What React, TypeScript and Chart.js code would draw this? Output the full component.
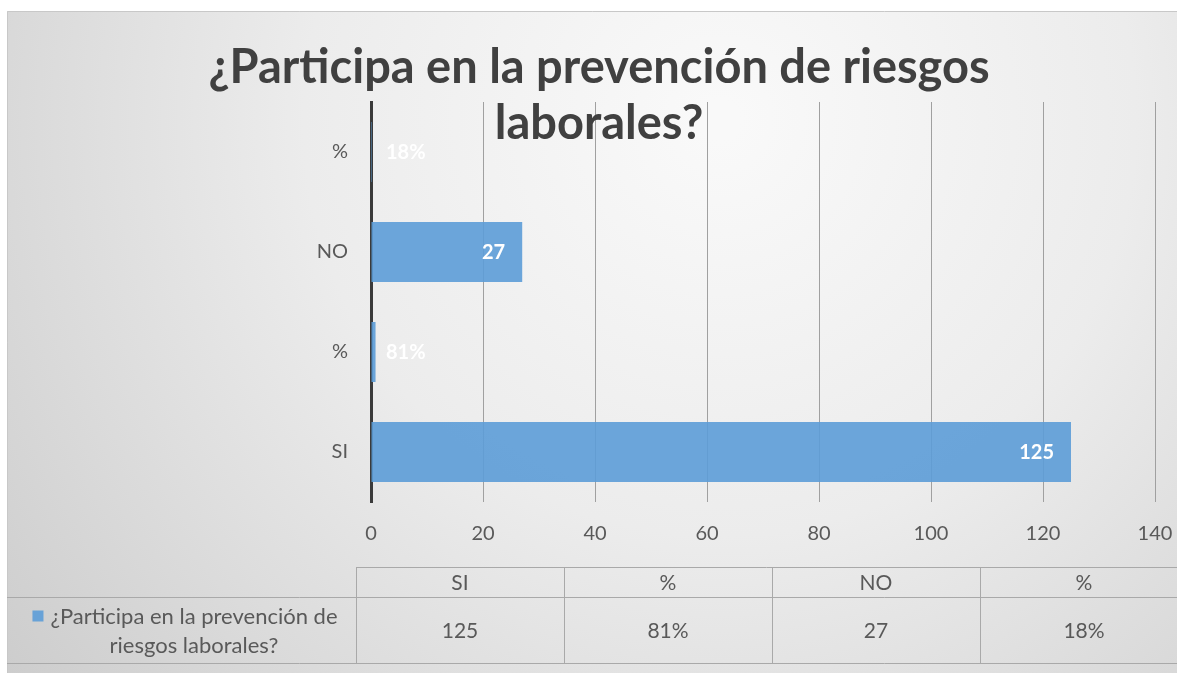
import React, { useEffect, useRef } from 'react';
import { Chart, registerables } from 'chart.js';

Chart.register(...registerables);

const TITLE_LINES = ['¿Participa en la prevención de riesgos', 'laborales?'];
const CATEGORIES = ['%', 'NO', '%', 'SI'];
const VALUES = [0.18, 27, 0.81, 125];
const IS_PERCENT = [true, false, true, false];
const X_TICKS_MIN = 0;
const X_TICKS_MAX = 140;
const X_TICKS_STEP = 20;
const SERIES_LABEL = '¿Participa en la prevención de riesgos laborales?';

const W = 1177;
const H = 673;
const FONT = 'Lato, "Open Sans", sans-serif';
const TEXT_COLOR = '#595959';
const BAR_COLOR = 'rgba(92,156,215,0.9)';

const fmt = (v: number, pct: boolean) => (pct ? Math.round(v * 100) + '%' : String(v));

const backgroundPlugin = {
  id: 'bg',
  beforeDraw(chart: any) {
    const ctx = chart.ctx;
    ctx.save();
    ctx.fillStyle = '#ffffff';
    ctx.fillRect(0, 0, W, H);
    const g = ctx.createRadialGradient(720, 120, 20, 720, 120, 900);
    g.addColorStop(0, '#f9f9f9');
    g.addColorStop(0.45, '#ececec');
    g.addColorStop(1, '#cdcdcd');
    ctx.fillStyle = g;
    ctx.fillRect(7, 11, W - 7, H - 11);
    ctx.strokeStyle = '#c8c8c8';
    ctx.lineWidth = 1;
    ctx.beginPath();
    ctx.moveTo(7.5, H);
    ctx.lineTo(7.5, 11.5);
    ctx.lineTo(W, 11.5);
    ctx.stroke();
    ctx.restore();
  },
};

const labelsPlugin = {
  id: 'barLabels',
  afterDatasetsDraw(chart: any) {
    const ctx = chart.ctx;
    const meta = chart.getDatasetMeta(0);
    const left = chart.chartArea.left;
    ctx.save();
    ctx.font = `bold 20px ${FONT}`;
    ctx.fillStyle = '#ffffff';
    ctx.textBaseline = 'middle';
    meta.data.forEach((bar: any, i: number) => {
      const txt = fmt(VALUES[i], IS_PERCENT[i]);
      const w = ctx.measureText(txt).width;
      let x = bar.x - 17 - w;
      if (x < left + 15) x = left + 15;
      ctx.textAlign = 'left';
      ctx.fillText(txt, x, bar.y + 1);
    });
    ctx.restore();
  },
};

const overlayPlugin = {
  id: 'overlay',
  afterDraw(chart: any) {
    const ctx = chart.ctx;
    ctx.save();
    // Title
    ctx.fillStyle = '#404040';
    ctx.textAlign = 'center';
    ctx.textBaseline = 'alphabetic';
    ctx.font = `bold 100px ${FONT}`;
    const w0 = ctx.measureText(TITLE_LINES[0]).width;
    const size = Math.round((100 * 788) / w0);
    ctx.font = `bold ${size}px ${FONT}`;
    ctx.fillText(TITLE_LINES[0], 599, 83);
    ctx.fillText(TITLE_LINES[1], 599, 139);

    // Data table
    const tableLeft = chart.chartArea.left - 15;
    const colW = 208;
    const y0 = 567;
    const y1 = 597;
    const y2 = 663;
    ctx.strokeStyle = '#a9a9a9';
    ctx.lineWidth = 1;
    ctx.beginPath();
    ctx.moveTo(tableLeft, y0 + 0.5);
    ctx.lineTo(W, y0 + 0.5);
    ctx.moveTo(7, y1 + 0.5);
    ctx.lineTo(W, y1 + 0.5);
    ctx.moveTo(7, y2 + 0.5);
    ctx.lineTo(W, y2 + 0.5);
    const cols = CATEGORIES.map((c, i) => ({ c, v: fmt(VALUES[i], IS_PERCENT[i]) })).reverse();
    for (let i = 0; i < cols.length; i++) {
      const x = Math.round(tableLeft + i * colW) + 0.5;
      ctx.moveTo(x, y0);
      ctx.lineTo(x, y2);
    }
    ctx.stroke();

    ctx.fillStyle = TEXT_COLOR;
    ctx.font = `21px ${FONT}`;
    ctx.textAlign = 'center';
    ctx.textBaseline = 'middle';
    cols.forEach((col, i) => {
      const cx = tableLeft + i * colW + colW / 2;
      ctx.fillText(col.c, cx, (y0 + y1) / 2 + 1);
      ctx.fillText(col.v, cx, (y1 + y2) / 2 + 1);
    });

    // Legend key and series label wrapped
    ctx.font = `22px ${FONT}`;
    const words = SERIES_LABEL.split(' ');
    const lines: string[] = [];
    let cur = '';
    const maxW = 315;
    words.forEach((wd) => {
      const test = cur ? cur + ' ' + wd : wd;
      if (ctx.measureText(test).width > maxW && cur) {
        lines.push(cur);
        cur = wd;
      } else cur = test;
    });
    if (cur) lines.push(cur);
    const textCx = 194;
    const lh = 29;
    const startY = (y1 + y2) / 2 - ((lines.length - 1) * lh) / 2 + 1;
    lines.forEach((ln, i) => ctx.fillText(ln, textCx, startY + i * lh));
    const firstW = ctx.measureText(lines[0]).width;
    ctx.fillStyle = BAR_COLOR;
    ctx.fillRect(textCx - firstW / 2 - 18, startY - 6, 11, 11);
    ctx.restore();
  },
};

export default function App() {
  const ref = useRef<HTMLCanvasElement>(null);
  useEffect(() => {
    if (!ref.current) return;
    const chart = new Chart(ref.current, {
      type: 'bar',
      data: {
        labels: CATEGORIES,
        datasets: [
          {
            label: SERIES_LABEL,
            data: VALUES,
            backgroundColor: BAR_COLOR,
            borderWidth: 0,
            barPercentage: 0.6,
            categoryPercentage: 1,
          },
        ],
      },
      options: {
        indexAxis: 'y',
        animation: false,
        responsive: false,
        maintainAspectRatio: false,
        layout: { padding: { left: 0, right: 22, top: 102, bottom: 121 } },
        plugins: {
          legend: { display: false },
          title: { display: false },
          tooltip: { enabled: false },
        },
        scales: {
          x: {
            min: X_TICKS_MIN,
            max: X_TICKS_MAX,
            ticks: {
              stepSize: X_TICKS_STEP,
              color: TEXT_COLOR,
              font: { family: FONT, size: 20 },
              padding: 20,
            },
            grid: { color: '#a0a0a0', lineWidth: 1, drawTicks: false },
            border: { display: false },
            afterFit: (s: any) => {
              s.height = 50;
              s.paddingLeft = 0;
              s.paddingRight = 0;
            },
          },
          y: {
            ticks: {
              color: TEXT_COLOR,
              font: { family: FONT, size: 20 },
              padding: 15,
            },
            grid: { display: false },
            border: { display: true, color: '#3a3a3a', width: 3 },
            afterFit: (s: any) => {
              s.width = 371;
            },
          },
        },
      },
      plugins: [backgroundPlugin, labelsPlugin, overlayPlugin],
    });
    return () => chart.destroy();
  }, []);
  return (
    <div style={{ position: 'fixed', left: 0, top: 0, width: W, height: H }}>
      <canvas ref={ref} width={W} height={H} style={{ display: 'block' }} />
    </div>
  );
}
